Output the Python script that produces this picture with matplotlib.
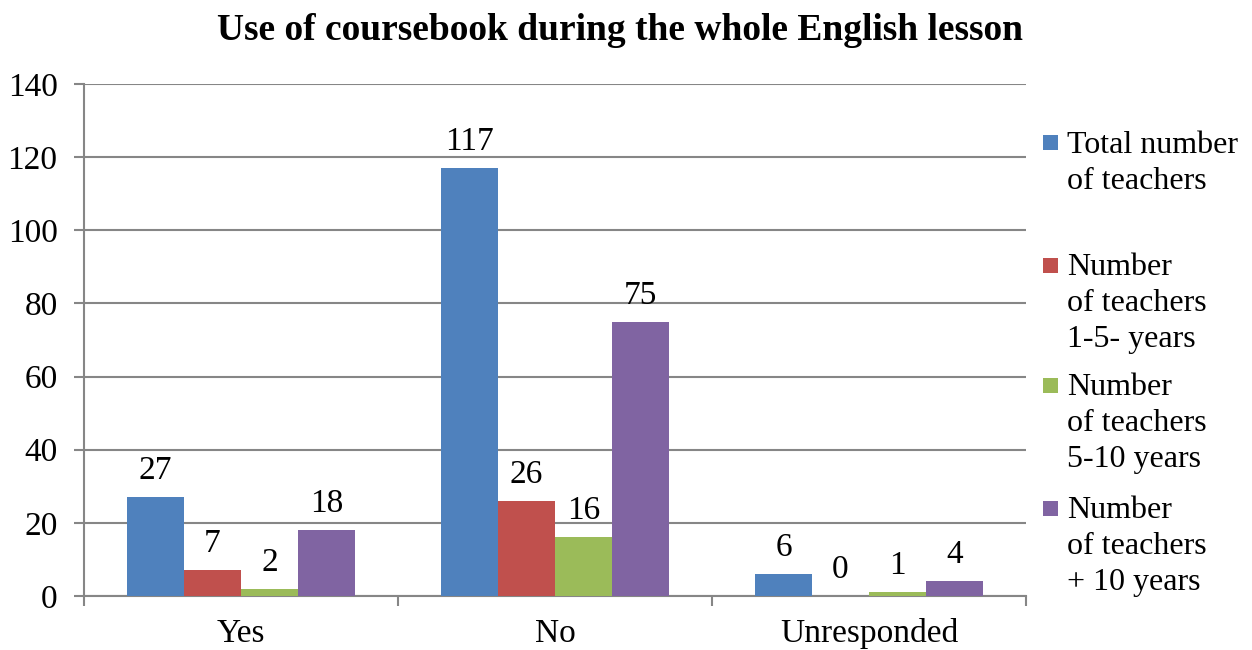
import matplotlib
matplotlib.use("Agg")
import matplotlib.pyplot as plt
import numpy as np
from matplotlib.patches import Rectangle

plt.rcParams['font.family'] = ['Liberation Serif', 'DejaVu Serif']

categories = ["Yes", "No", "Unresponded"]
series_names = ["Total number\nof teachers",
                "Number\nof teachers\n1-5- years",
                "Number\nof teachers\n5-10 years",
                "Number\nof teachers\n+ 10 years"]
total = [27, 117, 6]
y1_5 = [7, 26, 0]
y5_10 = [2, 16, 1]
y10p = [18, 75, 4]
series_values = [total, y1_5, y5_10, y10p]
colors = ["#4F81BD", "#C0504D", "#9BBB59", "#8064A2"]
title = "Use of coursebook during the whole English lesson"

fig = plt.figure(figsize=(12.52, 6.5), dpi=100)
ax = fig.add_axes([84/1252, 1-596/650, (1026-84)/1252, (596-84)/650])

x = np.arange(len(categories))
w = 0.1815
gray = "#868686"
for i, (vals, c) in enumerate(zip(series_values, colors)):
    pos = x + (i - 1.5) * w
    bars = ax.bar(pos, vals, width=w, color=c, zorder=3)
    for b, v in zip(bars, vals):
        ax.annotate(str(v), (b.get_x() + b.get_width()/2, v), xytext=(0, 8),
                    textcoords='offset points', ha='center', va='bottom',
                    fontsize=24, zorder=4)

ax.set_xlim(-0.5, 2.5)
ax.set_ylim(0, 140)
ax.set_yticks(np.arange(0, 141, 20))
ax.yaxis.grid(True, color=gray, linewidth=1.5, zorder=0)
ax.set_axisbelow(True)
ax.set_xticks(x)
ax.set_xticklabels(categories)
ax.set_xticks(np.arange(-0.5, 2.6, 1.0), minor=True)
ax.tick_params(axis='x', which='major', length=0, pad=16, labelsize=24)
ax.tick_params(axis='x', which='minor', length=7, width=1.5, color=gray, direction='out')
ax.tick_params(axis='y', length=7, width=1.5, color=gray, pad=12, labelsize=24)
for s in ['top', 'right']:
    ax.spines[s].set_visible(False)
for s in ['left', 'bottom']:
    ax.spines[s].set_color(gray)
    ax.spines[s].set_linewidth(1.5)

fig.text(620/1252, 1-30/650, title, ha='center', va='center', fontsize=27, fontweight='bold')

# legend (manual layout to mimic spacing)
leg_centers = [143, 265, 385, 508]
for name, c, cy in zip(series_names, colors, leg_centers):
    fig.patches.append(Rectangle((1043/1252, 1-(cy+7.5)/650), 15/1252, 15/650,
                                 transform=fig.transFigure, facecolor=c, edgecolor='none'))
    fig.text(1067/1252, 1-(cy-12)/650, name, ha='left', va='top', fontsize=23,
             linespacing=1.31)

fig.savefig("out.png", dpi=100)
